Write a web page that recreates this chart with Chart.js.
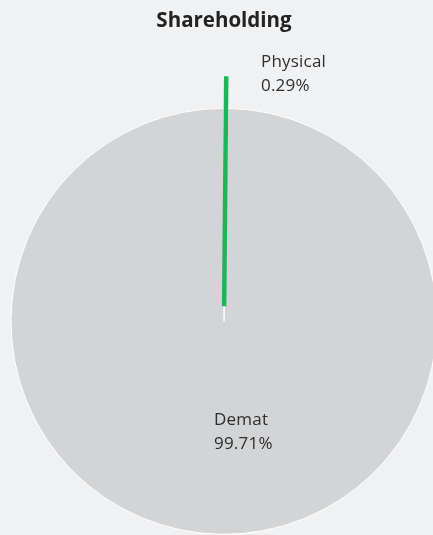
<!DOCTYPE html>
<html>
<head>
<meta charset="utf-8">
<script src="https://cdn.jsdelivr.net/npm/chart.js@4/dist/chart.umd.min.js"></script>
<style>
  html, body { margin: 0; padding: 0; background: #f0f1f3; }
  #wrap { width: 433px; height: 535px; }
</style>
</head>
<body>
<div id="wrap"><canvas id="chart"></canvas></div>
<script>
const labels = ["Demat", "Physical"];
const shares = [99.71, 0.29];
const colors = ["#d3d4d6", "#1db45a"];

// draws "name / value%" next to each slice
const sliceLabels = {
    id: "sliceLabels",
    afterDatasetsDraw(chart) {
        const ctx = chart.ctx;
        const arcs = chart.getDatasetMeta(0).data;
        ctx.save();
        ctx.font = "17px 'Open Sans'";
        ctx.letterSpacing = "0.2px";
        ctx.fillStyle = "#2e2e2e";
        ctx.textAlign = "left";
        ctx.textBaseline = "alphabetic";
        arcs.forEach((arc, i) => {
            const p = arc.getProps(["x", "y", "startAngle", "endAngle", "outerRadius"], true);
            const mid = (p.startAngle + p.endAngle) / 2;
            let x, y;
            if (i === 1) {
                x = p.x + 37;
                y = p.y - p.outerRadius - 41;
            } else {
                x = p.x + Math.cos(mid) * p.outerRadius / 2 - 9;
                y = p.y + Math.sin(mid) * p.outerRadius / 2 - 3;
            }
            ctx.fillText(labels[i], x, y);
            ctx.fillText(shares[i].toFixed(2) + "%", x, y + 24);
        });
        ctx.restore();
    }
};

new Chart(document.querySelector("#chart"), {
    type: "pie",
    data: {
        labels: labels,
        datasets: [{
            data: shares,
            backgroundColor: colors,
            borderColor: ["#ffffff", "#1db45a"],
            borderWidth: [1, 4.5],
            borderJoinStyle: ["bevel", "miter"],
            offset: [0, 60]
        }]
    },
    options: {
        responsive: true,
        maintainAspectRatio: false,
        animation: false,
        radius: 213,
        // start Demat right after the Physical slice so Physical sits at 12 o'clock
        rotation: shares[1] / 100 * 360,
        layout: { padding: { left: 15, right: 0, top: 0, bottom: 0 } },
        plugins: {
            legend: { display: false },
            tooltip: { enabled: false },
            title: {
                display: true,
                text: "Shareholding",
                color: "#222",
                font: { family: "Open Sans", size: 20.5, weight: "bold" },
                padding: { top: 9, bottom: 74 }
            }
        }
    },
    plugins: [sliceLabels]
});
</script>
</body>
</html>
